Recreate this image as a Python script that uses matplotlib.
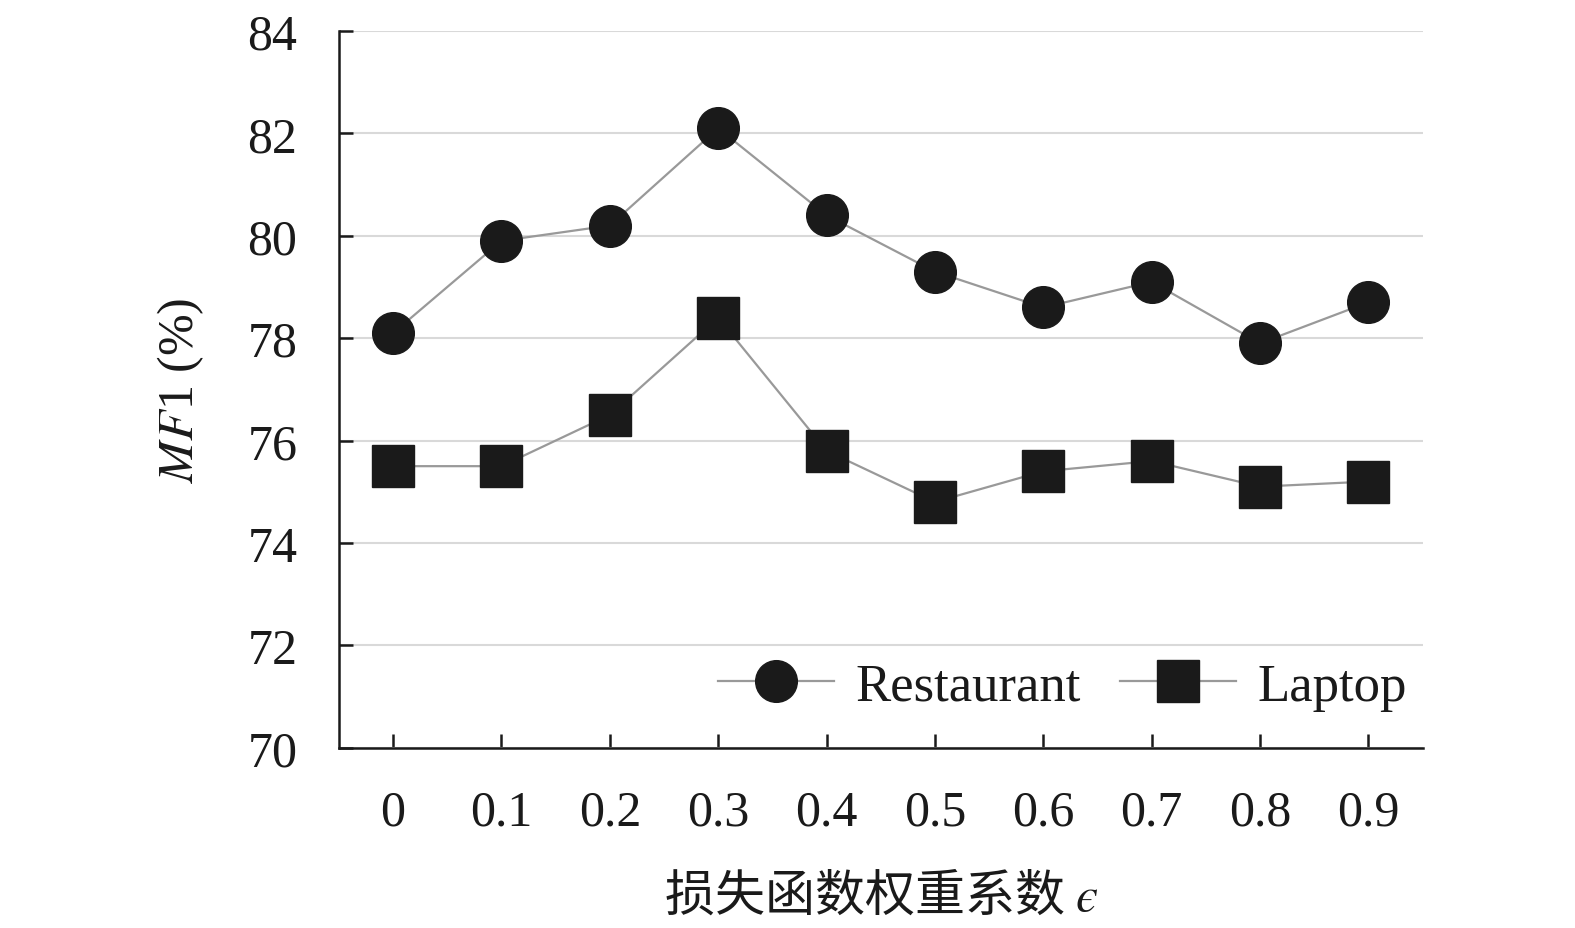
import matplotlib
matplotlib.use('Agg')
import matplotlib.pyplot as plt
import numpy as np

plt.rcParams['font.family'] = ['Liberation Serif', 'DejaVu Serif']
plt.rcParams['mathtext.fontset'] = 'stix'

# 数据
eps_labels = ['0', '0.1', '0.2', '0.3', '0.4', '0.5', '0.6', '0.7', '0.8', '0.9']
restaurant = [78.1, 79.9, 80.2, 82.1, 80.4, 79.3, 78.6, 79.1, 77.9, 78.7]
laptop = [75.5, 75.5, 76.5, 78.4, 75.8, 74.8, 75.4, 75.6, 75.1, 75.2]
y_ticks = [70, 72, 74, 76, 78, 80, 82, 84]

fig = plt.figure(figsize=(15.75, 9.29), dpi=100)
ax = fig.add_axes([0.2152, 0.194, 0.6880, 0.7716])

x = np.arange(len(eps_labels))
line_kw = dict(color='#999999', lw=1.6, markerfacecolor='#1a1a1a',
               markeredgecolor='#1a1a1a', zorder=3)
ax.plot(x, restaurant, marker='o', ms=30, label='Restaurant', **line_kw)
ax.plot(x, laptop, marker='s', ms=30, label='Laptop', **line_kw)

ax.set_xlim(-0.5, len(eps_labels) - 0.5)
ax.set_ylim(70, 84)
ax.set_xticks(x)
ax.set_xticklabels(eps_labels)
ax.set_yticks(y_ticks)

ax.yaxis.grid(True, color='#d9d9d9', lw=1.5)
ax.set_axisbelow(True)
for s in ['top', 'right']:
    ax.spines[s].set_visible(False)
for s in ['left', 'bottom']:
    ax.spines[s].set_linewidth(1.8)
    ax.spines[s].set_color('#1a1a1a')

ax.tick_params(axis='both', direction='in', length=10, width=1.8,
               color='#1a1a1a', labelsize=36, labelcolor='#1a1a1a')
ax.tick_params(axis='x', pad=30)
ax.tick_params(axis='y', pad=30)

ax.set_ylabel(r'$\mathit{MF}$1 (%)', fontsize=36, color='#1a1a1a', labelpad=30)
ax.set_xlabel('损失函数权重系数 $\u03f5$', fontsize=36, color='#1a1a1a',
              labelpad=24, family=['Noto Sans CJK SC', 'DejaVu Sans'])

ax.legend(loc='center right', bbox_to_anchor=(1.0, 0.085), ncol=2, frameon=False,
          fontsize=38, handlelength=2.2, handletextpad=0.4, columnspacing=0.75,
          borderaxespad=0, borderpad=0.3, labelcolor='#1a1a1a')

fig.savefig('out.png', dpi=100)
